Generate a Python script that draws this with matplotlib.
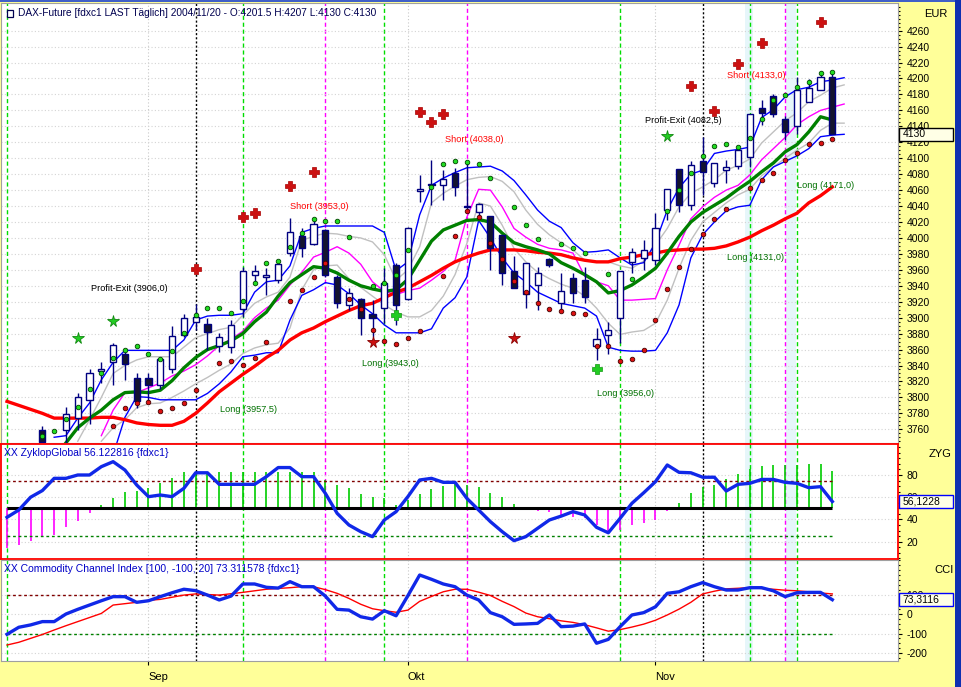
import numpy as np
import matplotlib
matplotlib.use('Agg')
import matplotlib.pyplot as plt
import matplotlib.transforms as mtransforms
from matplotlib.patches import Rectangle
from matplotlib.ticker import MultipleLocator, FixedLocator

plt.rcParams['font.family'] = ['Liberation Sans', 'DejaVu Sans']
plt.rcParams['axes.unicode_minus'] = False
nan = np.nan

# ---------------- data ----------------
month_labels = ['Sep', 'Okt', 'Nov']
month_index = [12, 34, 55]

opens = [nan, nan, nan, 3759, nan, 3759, 3774, 3797, 3833, 3845,
         3855, 3824, 3824, 3816, 3836, 3878, 3895, 3892, 3865, 3863,
         3911, 3954, 3951, 3947, 3981, 4002, 3992, 4010, 3951, 3916,
         3923, 3905, 3912, 3966, 3923, 4059, 4068, 4066, 4081, 4040,
         4032, 4027, 4004, 3958, 3930, 3941, 3973, 3918, 3950, 3947,
         3864, 3878, 3899, 3970, 3975, 3972, 4035, 4086, 4041, 4096,
         4069, 4085, 4090, 4101, 4163, 4178, 4149, 4140, 4171, 4186,
         4201.5]
highs = [nan, nan, nan, 3764, nan, 3788, 3806, 3836, 3845, 3868,
         3860, 3830, 3830, 3851, 3889, 3905, 3917, 3899, 3881, 3897,
         3963, 3966, 3962, 3972, 4025, 4012, 4025, 4011, 3954, 3937,
         3925, 3922, 3962, 3969, 4014, 4079, 4098, 4085, 4088, 4096,
         4044, 4027, 4004, 3977, 3969, 3964, 3975, 3956, 3956, 3964,
         3887, 3895, 3958, 3987, 3997, 4031, 4061, 4086, 4096, 4127,
         4094, 4098, 4114, 4155, 4173, 4181, 4153, 4202, 4199, 4209,
         4207]
lows = [nan, nan, nan, 3738, nan, 3740, 3759, 3767, 3818, 3816,
        3822, 3787, 3793, 3811, 3830, 3876, 3885, 3859, 3857, 3856,
        3901, 3943, 3928, 3943, 3977, 3976, 3991, 3951, 3912, 3910,
        3878, 3876, 3893, 3891, 3922, 4045, 4041, 4048, 4052, 4033,
        4025, 3960, 3941, 3937, 3912, 3910, 3964, 3907, 3918, 3918,
        3847, 3855, 3868, 3956, 3960, 3966, 4023, 4033, 4035, 4054,
        4064, 4069, 4087, 4089, 4142, 4152, 4123, 4131, 4171, 4186,
        4130]
closes = [nan, nan, nan, 3744, nan, 3779, 3800, 3830, 3836, 3866,
          3842, 3795, 3816, 3848, 3877, 3899, 3901, 3882, 3876, 3891,
          3959, 3958, 3954, 3967, 4008, 3988, 4017, 3954, 3918, 3931,
          3899, 3900, 3944, 3916, 4012, 4061, 4066, 4074, 4064, 4039,
          4043, 3987, 3956, 3937, 3969, 3956, 3966, 3933, 3931, 3926,
          3873, 3885, 3958, 3983, 3985, 4012, 4061, 4041, 4092, 4083,
          4094, 4089, 4110, 4155, 4157, 4156, 4133, 4186, 4188, 4202,
          4130]

ma_slow = [3795, 3790, 3785, 3780, 3774, 3774, 3774, 3774, 3775, 3775,
           3772, 3768, 3766, 3765, 3765, 3770, 3780, 3793, 3807, 3818,
           3829, 3839, 3850, 3859, 3872, 3881, 3887, 3895, 3902, 3909,
           3915, 3918, 3925, 3932, 3937, 3945, 3953, 3962, 3970, 3976,
           3981, 3985, 3985, 3985, 3984, 3982, 3981, 3979, 3975, 3972,
           3970, 3970, 3974, 3976, 3979, 3981, 3984, 3985, 3986, 3986,
           3987, 3990, 3995, 4001, 4009, 4016, 4024, 4031, 4044, 4053,
           4064]
ma_mid = [nan, nan, nan, nan, nan, 3743, 3762, 3774, 3784, 3797,
          3806, 3807, 3806, 3809, 3821, 3837, 3850, 3860, 3865, 3871,
          3880, 3895, 3907, 3927, 3944, 3954, 3964, 3962, 3956, 3947,
          3940, 3936, 3933, 3935, 3948, 3972, 3996, 4010, 4016, 4022,
          4023, 4020, 4006, 3994, 3989, 3985, 3980, 3969, 3962, 3954,
          3945, 3931, 3934, 3941, 3951, 3962, 3981, 4002, 4020, 4032,
          4041, 4050, 4061, 4071, 4083, 4094, 4108, 4117, 4133, 4152,
          4148]
ma_fast = [nan, nan, nan, nan, nan, nan, nan, nan, 3752, 3784,
           3806, 3806, 3812, 3818, 3827, 3833, 3841, 3852, 3865, 3873,
           3883, 3900, 3912, 3922, 3941, 3957, 3976, 3982, 3989, 3981,
           3967, 3945, 3933, 3929, 3934, 3937, 3947, 3958, 3972, 4026,
           4061, 4060, 4039, 4012, 4001, 3992, 3987, 3985, 3981, 3952,
           3945, 3940, 3922, 3922, 3923, 3924, 3960, 3991, 4024, 4039,
           4051, 4060, 4066, 4079, 4098, 4112, 4126, 4142, 4152, 4160,
           4164, 4168]
band_upper = [nan, nan, nan, nan, 3750, 3752, 3774, 3793, 3822, 3844,
              3859, 3859, 3859, 3859, 3859, 3872, 3897, 3902, 3903, 3903,
              3905, 3932, 3945, 3947, 3965, 4007, 4012, 4015, 4015, 4015,
              4015, 4015, 4007, 3959, 3970, 4029, 4066, 4075, 4082, 4088,
              4089, 4090, 4084, 4072, 4054, 4035, 4021, 4013, 3994, 3982,
              3983, 3985, 3975, 3966, 3969, 3994, 4035, 4063, 4080, 4085,
              4106, 4109, 4111, 4114, 4151, 4161, 4177, 4186, 4189, 4196,
              4198, 4201]
band_lower = [nan, nan, nan, nan, nan, nan, nan, nan, nan, 3728,
              3775, 3801, 3800, 3797, 3797, 3797, 3797, 3805, 3817, 3832,
              3851, 3853, 3856, 3856, 3897, 3928, 3935, 3944, 3941, 3930,
              3916, 3905, 3891, 3881, 3881, 3881, 3886, 3912, 3925, 3951,
              4022, 4000, 3975, 3956, 3945, 3932, 3925, 3918, 3915, 3912,
              3902, 3863, 3859, 3858, 3858, 3859, 3881, 3916, 3975, 4004,
              4020, 4034, 4039, 4041, 4073, 4089, 4096, 4103, 4112, 4127,
              4129, 4130]
inner_upper = [nan, nan, nan, nan, nan, nan, 3745, 3772, 3800, 3830,
               3840, 3847, 3851, 3851, 3851, 3863, 3875, 3880, 3885, 3888,
               3903, 3918, 3926, 3932, 3951, 3997, 4002, 4006, 4005, 4002,
               4000, 3995, 3979, 3947, 3960, 3989, 4044, 4056, 4065, 4073,
               4076, 4077, 4071, 4058, 4035, 4017, 4004, 3994, 3985, 3972,
               3970, 3970, 3965, 3962, 3971, 3991, 4012, 4039, 4056, 4064,
               4073, 4085, 4091, 4099, 4119, 4133, 4147, 4157, 4171, 4179,
               4188, 4192]
inner_lower = [nan, nan, nan, nan, nan, nan, nan, nan, 3745, 3762,
               3772, 3787, 3792, 3793, 3800, 3808, 3817, 3825, 3834, 3842,
               3855, 3862, 3866, 3868, 3887, 3935, 3960, 3965, 3966, 3949,
               3938, 3927, 3916, 3907, 3901, 3901, 3909, 3927, 3954, 3993,
               4044, 4040, 4016, 3987, 3970, 3957, 3949, 3942, 3937, 3927,
               3912, 3893, 3879, 3882, 3884, 3893, 3922, 3962, 3997, 4020,
               4032, 4044, 4054, 4061, 4078, 4089, 4100, 4110, 4119, 4135,
               4144, 4144]
dots_upper = [nan, nan, nan, 3751, 3758, 3773, 3788, 3810, 3830, 3849,
              3859, 3865, 3854, 3848, 3858, 3881, 3903, 3912, 3912, 3906,
              3921, 3943, 3968, 3971, 3989, 4006, 4024, 4021, 4021, 4001,
              nan, 3940, 3944, 3954, 3985, nan, 4064, 4093, 4096, 4095,
              4093, 4075, nan, 4039, 4016, 3999, nan, 3992, 3987, 3981,
              nan, 3955, nan, 3948, nan, nan, 4034, 4060, 4082, 4103,
              4115, 4118, 4114, 4125, 4149, 4173, 4179, 4189, 4196, 4207,
              4208]
dots_lower = [nan, nan, nan, nan, nan, nan, nan, nan, nan, 3764,
              3787, 3793, 3794, 3783, 3787, 3793, 3809, nan, 3843, 3846,
              3841, 3849, 3870, nan, 3921, 3935, 3951, 3969, nan, 3923,
              3911, 3884, 3871, 3867, 3875, 3883, nan, 3952, 4002, 4034,
              4026, 3994, 3974, 3946, 3932, 3919, 3911, 3908, 3906, 3905,
              3865, 3865, 3846, 3848, 3860, 3897, 3936, 3963, 3986, 4005,
              4024, 4036, nan, 4063, 4073, 4082, 4098, 4107, 4118, 4119,
              4124]

red_cross_idx = [16, 20, 21, 24, 26, 35, 36, 37, 58, 60, 62, 64, 69]
red_cross_val = [3961, 4026, 4031, 4065, 4083, 4158, 4145, 4155, 4191, 4159, 4218, 4245, 4271]
green_star_idx = [6, 9, 56]
green_star_val = [3875, 3896, 4128]
red_star_idx = [31, 43]
red_star_val = [3869, 3875]
green_cross_idx = [33, 50]
green_cross_val = [3903, 3836]

signal_texts = ["Profit-Exit (3906,0)", "Long (3957,5)", "Short (3953,0)", "Long (3943,0)",
                "Short (4038,0)", "Long (3956,0)", "Profit-Exit (4082,5)", "Short (4133,0)",
                "Long (4131,0)", "Long (4171,0)"]
signal_kind = ['exit', 'long', 'short', 'long', 'short', 'long', 'exit', 'short', 'long', 'long']
signal_x = [7.1, 18.1, 24.0, 30.1, 37.15, 50.0, 54.1, 61.1, 61.1, 67.0]
signal_y = [3936, 3785, 4040, 3842, 4124, 3805, 4147, 4204, 3975, 4066]

zyg = [41.9, 48.5, 60, 66, 77, 77, 80, 80, 87.5, 92,
       84.5, 71, 60.5, 62, 60.5, 68, 82, 82, 71.6, 71.6,
       71.6, 71.6, 78.5, 86.7, 86.7, 78.5, 78.5, 63.5, 45.5, 35,
       29, 24.5, 39.5, 47, 60.5, 75.5, 77, 73.4, 73.4, 59,
       48.5, 38, 29, 20.9, 24.5, 32, 39.5, 43, 47, 44,
       32.9, 28, 41, 54.5, 64, 74, 89, 82.4, 82, 78,
       78, 65.6, 71.6, 72.5, 76, 76, 73.4, 72.5, 68.6, 69.5,
       56.1228]
zyg_hist = [14, 17, 20.9, 24.5, 26, 33, 38.6, 45.5, 53, 59,
            65, 66, 68, 72.5, 77.6, 82.4, 82.4, 82.4, 82.4, 82.4,
            82.4, 82.4, 82.4, 82.4, 82.4, 82.4, 82.4, 75.5, 71, 68,
            62.6, 60.5, 59, 53, 57.5, 62.6, 67, 70, 73.4, 71,
            69.5, 64, 60, 54, 50, 48, 47, 44, 42.5, 41.6,
            35, 29, 30.5, 35, 37, 39.5, 48, 55, 63.5, 69.5,
            71, 76, 81, 85, 88, 89, 89, 89, 90, 90,
            84]
cci = [-104, -68, -56, -39, -39, 0, 24, 46, 68, 89,
       89, 60, 68, 89, 109, 127, 120, 97, 72, 92,
       154, 154, 137, 133, 166, 140, 140, 92, 24, 20,
       -14, -26, 17, -9, 94, 200, 178, 154, 140, 97,
       72, 7, -14, -53, -51, -48, -5, -65, -62, -51,
       -150, -130, -65, -5, 7, 37, 106, 114, 140, 161,
       140, 123, 123, 135, 135, 119, 89, 109, 111, 111,
       73.3116]
cci_signal = [-159, -145, -125, -105, -82, -60, -39, -18, 3, 46,
              53, 60, 70, 75, 86, 97, 103, 100, 97, 104,
              111, 119, 127, 131, 135, 140, 140, 125, 106, 80,
              50, 27, 17, 9, 20, 65, 90, 114, 127, 127,
              112, 95, 65, 38, 5, -14, -24, -35, -43, -55,
              -71, -88, -80, -67, -52, -32, -5, 25, 60, 103,
              117, 129, 132, 135, 131, 127, 122, 119, 114, 108,
              103]

green_vlines = [0, 20, 32, 52, 63, 67]
black_vlines = [16, 59]
magenta_vlines = [27, 39, 66]

title_main = "DAX-Future [fdxc1 LAST T\u00e4glich] 2004/11/20 - O:4201.5 H:4207 L:4130 C:4130"
title_zyg = "XX ZyklopGlobal 56.122816 {fdxc1}"
title_cci = "XX Commodity Channel Index [100, -100, 20] 73.311578 {fdxc1}"

# ---------------- figure ----------------
W, H = 961, 687
YELLOW = '#FFFF99'
fig = plt.figure(figsize=(W / 100, H / 100), dpi=100)
fig.patch.set_facecolor(YELLOW)


def fax(x0, y0, x1, y1):
    return fig.add_axes([x0 / W, 1 - y1 / H, (x1 - x0) / W, (y1 - y0) / H])


ax_p = fax(1, 3, 898, 443)
ax_z = fax(1, 444, 898, 559)
ax_c = fax(1, 560, 898, 661)
XLIM = (-0.51, 75.57)

for ax in (ax_p, ax_z, ax_c):
    ax.set_facecolor('white')
    ax.set_xlim(*XLIM)
    ax.yaxis.tick_right()
    ax.tick_params(axis='y', which='major', direction='out', length=3, width=0.8,
                   pad=3, labelsize=7.5, colors='black')
    ax.tick_params(axis='y', which='minor', direction='out', length=1.5, width=0.8)
    ax.tick_params(axis='x', which='both', bottom=False, labelbottom=False)
    for s in ax.spines.values():
        s.set_color('#A0A0A0')
        s.set_linewidth(0.8)
    for m in month_index:
        ax.axvline(m, color='#C8C8C8', lw=0.8, ls=(0, (1, 2)), zorder=0.5)
    for v in green_vlines:
        ax.axvline(v, color='#00DD00', lw=1.0, ls=(0, (3, 2)), zorder=1)
    for v in black_vlines:
        ax.axvline(v, color='black', lw=1.0, ls=(0, (1.5, 1.5)), zorder=1)
    for v in magenta_vlines:
        ax.axvline(v, color='#FF00FF', lw=1.0, ls=(0, (3, 2)), zorder=1)
    ax.axvspan(62.6, 63.3, color='#E6F6FA', zorder=0.2, lw=0)
    ax.axvspan(66.1, 66.9, color='#E6F6FA', zorder=0.2, lw=0)

# ---------- price panel ----------
ax_p.set_ylim(3742.8, 4294.7)
ax_p.yaxis.set_major_locator(FixedLocator(list(range(3760, 4261, 20))))
ax_p.yaxis.set_minor_locator(MultipleLocator(5))
ax_p.grid(axis='y', which='major', color='#D4D4D4', lw=0.8, ls=(0, (1, 2)), zorder=0.3)

x = np.arange(len(closes))
xb = np.arange(len(band_upper))
ax_p.plot(xb, inner_upper, color='#C0C0C0', lw=1.0, zorder=2)
ax_p.plot(xb, inner_lower, color='#C0C0C0', lw=1.0, zorder=2)
ax_p.plot(xb, band_upper, color='#0000FF', lw=1.0, zorder=2.2)
ax_p.plot(xb, band_lower, color='#0000FF', lw=1.0, zorder=2.2)
ax_p.plot(xb, ma_fast, color='#FF00FF', lw=1.0, zorder=2.4)
ax_p.plot(x, ma_slow, color='#FF0000', lw=2.4, zorder=2.6)
ax_p.plot(x, ma_mid, color='#008000', lw=2.4, zorder=2.8)

o = np.array(opens, float)
c = np.array(closes, float)
h = np.array(highs, float)
lo = np.array(lows, float)
valid = ~np.isnan(o)
up = valid & (c >= o)
dn = valid & (c < o)
bot = np.minimum(o, c)
hgt = np.maximum(np.abs(c - o), 1.0)
ax_p.vlines(x[valid], lo[valid], h[valid], color='#000080', lw=1.0, zorder=4)
ax_p.bar(x[up], hgt[up], bottom=bot[up], width=0.52, facecolor='white',
         edgecolor='#000080', lw=1.0, zorder=5)
ax_p.bar(x[dn], hgt[dn], bottom=bot[dn], width=0.52, facecolor='#14142E',
         edgecolor='#000080', lw=1.0, zorder=5)

ax_p.plot(x, dots_upper, ls='none', marker='o', ms=3.3, mfc='#22DD22', mec='#004400',
          mew=0.6, zorder=6)
ax_p.plot(x, dots_lower, ls='none', marker='o', ms=3.3, mfc='#DD1111', mec='#440000',
          mew=0.6, zorder=6)
ax_p.plot(red_cross_idx, red_cross_val, ls='none', marker='P', ms=7, mfc='#CC1111',
          mec='#AA0000', mew=0.5, zorder=6)
ax_p.plot(green_cross_idx, green_cross_val, ls='none', marker='P', ms=7, mfc='#22CC22',
          mec='#119911', mew=0.5, zorder=6)
ax_p.plot(green_star_idx, green_star_val, ls='none', marker='*', ms=8.5, mfc='#22CC22',
          mec='#118811', mew=0.6, zorder=6)
ax_p.plot(red_star_idx, red_star_val, ls='none', marker='*', ms=8.5, mfc='#CC1111',
          mec='#880000', mew=0.6, zorder=6)

kind_color = {'exit': 'black', 'long': '#007000', 'short': '#FF0000'}
for t, k, tx, ty in zip(signal_texts, signal_kind, signal_x, signal_y):
    ax_p.text(tx, ty, t, color=kind_color[k], fontsize=6.6, ha='left', va='center', zorder=7)


def value_box(ax, val, label, edge, px_h=13.5):
    y0, y1 = ax.get_ylim()
    bb = ax.get_position()
    ax_px_h = bb.height * H
    half = (y1 - y0) / ax_px_h * px_h / 2
    trans = mtransforms.blended_transform_factory(ax.transAxes, ax.transData)
    w = 54 / (bb.width * W)
    r = Rectangle((1.0015, val - half), w, 2 * half, transform=trans, clip_on=False,
                  facecolor='#FFFFE6', edgecolor=edge, lw=1.0, zorder=20)
    ax.add_patch(r)
    ax.text(1.0015 + 3 / (bb.width * W), val, label, transform=trans, clip_on=False,
            ha='left', va='center', fontsize=7.5, color='black', zorder=21)


value_box(ax_p, c[-1], f"{c[-1]:.0f}", 'black')

# ---------- ZYG panel ----------
ax_z.set_ylim(4.4, 107.9)
ax_z.yaxis.set_major_locator(FixedLocator([20, 40, 60, 80]))
ax_z.yaxis.set_minor_locator(MultipleLocator(5))
ax_z.grid(axis='y', which='major', color='#D4D4D4', lw=0.8, ls=(0, (1, 2)), zorder=0.3)
for s in ax_z.spines.values():
    s.set_color('#FF0000')
    s.set_linewidth(1.3)
zh = np.array(zyg_hist, float)
hist_colors = ['#00CC00' if v >= 50 else '#FF00FF' for v in zh]
ax_z.vlines(x, 50, zh, colors=hist_colors, lw=1.2, zorder=2)
ax_z.hlines(75, 0, len(x) - 1, colors='#800000', lw=1.0, linestyles=(0, (2, 2)), zorder=2)
ax_z.hlines(25, 0, len(x) - 1, colors='#008000', lw=1.0, linestyles=(0, (2, 2)), zorder=2)
ax_z.hlines(50, 0, len(x) - 1, colors='black', lw=2.2, zorder=3)
ax_z.plot(x, zyg, color='#1028E8', lw=2.4, zorder=4)
value_box(ax_z, zyg[-1], f"{zyg[-1]:.4f}".replace('.', ','), '#0000FF')

# ---------- CCI panel ----------
ax_c.set_ylim(-241, 277)
ax_c.yaxis.set_major_locator(FixedLocator([-200, -100, 0, 100]))
ax_c.yaxis.set_minor_locator(MultipleLocator(25))
ax_c.grid(axis='y', which='major', color='#D4D4D4', lw=0.8, ls=(0, (1, 2)), zorder=0.3)
ax_c.hlines(100, 0, len(x) - 1, colors='#800000', lw=1.0, linestyles=(0, (2, 2)), zorder=2)
ax_c.hlines(-100, 0, len(x) - 1, colors='#008000', lw=1.0, linestyles=(0, (2, 2)), zorder=2)
ax_c.plot(x, cci_signal, color='#FF0000', lw=1.0, zorder=3)
ax_c.plot(x, cci, color='#1028E8', lw=2.4, zorder=4)
value_box(ax_c, cci[-1], f"{cci[-1]:.4f}".replace('.', ','), '#0000FF')

ax_c.set_xticks(month_index)
ax_c.set_xticklabels(month_labels, ha='left')
ax_c.tick_params(axis='x', which='major', bottom=True, labelbottom=True, direction='out',
                 length=3, width=0.8, pad=5, labelsize=8, colors='black')

# ---------- texts and frame ----------
fig.text(18 / W, 1 - 13 / H, title_main, fontsize=7.25, color='#000050', ha='left', va='center')
fig.add_artist(Rectangle((7 / W, 1 - 17 / H), 6 / W, 7 / H, transform=fig.transFigure,
                         facecolor='white', edgecolor='#000050', lw=0.9))
fig.text(4 / W, 1 - 453 / H, title_zyg, fontsize=7.5, color='#0000C8', ha='left', va='center')
fig.text(4 / W, 1 - 569 / H, title_cci, fontsize=7.5, color='#0000C8', ha='left', va='center')
fig.text(936 / W, 1 - 14 / H, 'EUR', fontsize=8, color='black', ha='center', va='center')
fig.text(940 / W, 1 - 454 / H, 'ZYG', fontsize=8, color='black', ha='center', va='center')
fig.text(944 / W, 1 - 570 / H, 'CCI', fontsize=8, color='black', ha='center', va='center')

fig.add_artist(Rectangle((0, 1 - 2 / H), 1, 2 / H, transform=fig.transFigure,
                         facecolor='#4060C8', edgecolor='none'))
fig.add_artist(Rectangle((955 / W, 0), 6 / W, 1, transform=fig.transFigure,
                         facecolor='#1030B0', edgecolor='none'))

fig.savefig('out.png', dpi=100, facecolor=fig.get_facecolor())
